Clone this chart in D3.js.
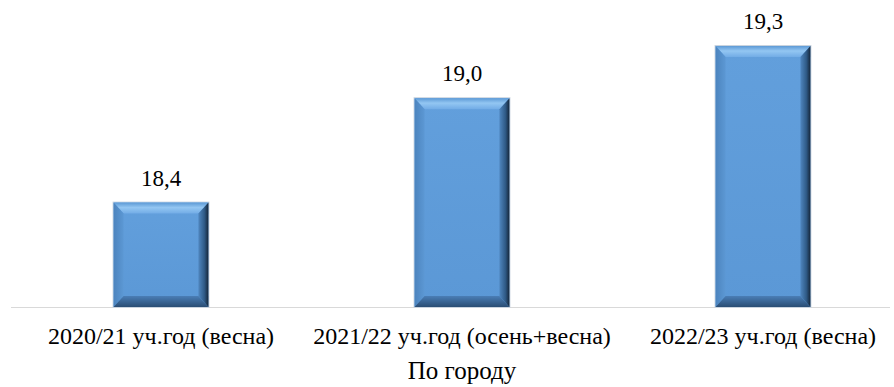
<!DOCTYPE html>
<html><head><meta charset="utf-8">
<script src="https://cdn.jsdelivr.net/npm/d3@7"></script>
</head><body style="margin:0;padding:0;background:#fff"><svg id="c" width="894" height="387" style="display:block" font-family="Liberation Serif"></svg>
<script>
const categories = ["2020/21 уч.год (весна)", "2021/22 уч.год (осень+весна)", "2022/23 уч.год (весна)"];
const values = [18.4, 19.0, 19.3];
const labels = ["18,4", "19,0", "19,3"];
const axisTitle = "По городу";

const FONT = "Liberation Serif";
const svg = d3.select("#c");
const base = 307;
const x = d3.scaleBand().domain(categories).range([10.5, 913.5]).paddingInner(0.685).paddingOuter(0.3425);
const y = d3.scaleLinear().domain([17.8, 19.5]).range([base, base - 1.7 * 174]);

const defs = svg.append("defs");
function lg(id, x1, y1, x2, y2, stops) {
  const g = defs.append("linearGradient").attr("id", id).attr("x1", x1).attr("y1", y1).attr("x2", x2).attr("y2", y2);
  stops.forEach(s => g.append("stop").attr("offset", s[0]).attr("stop-color", s[1]));
}
lg("face", 0, 0, 0, 1, [[0, "#629fdc"], [1, "#5b98d6"]]);
lg("top", 0, 0, 0, 1, [[0, "#5d9ad6"], [0.45, "#93c6f2"], [1, "#72ace6"]]);
lg("right", 0, 0, 1, 0, [[0, "#4f86bf"], [0.6, "#2f5a86"], [1, "#15263a"]]);
lg("left", 0, 0, 1, 0, [[0, "#4c84be"], [1, "#5c98d4"]]);
lg("bottom", 0, 0, 0, 1, [[0, "#4a7eb6"], [1, "#2a4d74"]]);

svg.append("line").attr("x1", 11).attr("x2", 890).attr("y1", base + 0.5).attr("y2", base + 0.5)
  .attr("stroke", "#d9d9d9").attr("stroke-width", 1.2);

const bw = x.bandwidth();
const bars = svg.selectAll("g.bar").data(values).join("g").attr("class", "bar");
bars.each(function (v, i) {
  const g = d3.select(this);
  const x0 = x(categories[i]), x1 = x0 + bw;
  const y0 = y(v), y1 = base;
  const b = 11, bs = 10;
  g.append("rect").attr("x", x0 - 0.5).attr("y", y0 - 0.5).attr("width", bw + 1).attr("height", y1 - y0 + 1)
    .attr("fill", "none").attr("stroke", "#c9d3de").attr("stroke-width", 1);
  g.append("rect").attr("x", x0).attr("y", y0).attr("width", bw).attr("height", y1 - y0).attr("fill", "url(#face)");
  const P = pts => pts.map(p => p.join(",")).join(" ");
  g.append("polygon").attr("points", P([[x0, y0], [x1, y0], [x1 - bs, y0 + b], [x0 + bs, y0 + b]])).attr("fill", "url(#top)");
  g.append("polygon").attr("points", P([[x0, y0], [x0 + bs, y0 + b], [x0 + bs, y1 - b], [x0, y1]])).attr("fill", "url(#left)");
  g.append("polygon").attr("points", P([[x1, y0], [x1, y1], [x1 - bs, y1 - b], [x1 - bs, y0 + b]])).attr("fill", "url(#right)");
  g.append("polygon").attr("points", P([[x0, y1], [x0 + bs, y1 - b], [x1 - bs, y1 - b], [x1, y1]])).attr("fill", "url(#bottom)");
});

// value labels
values.forEach((v, i) => {
  const t = svg.append("text").attr("x", x(categories[i]) + bw / 2).attr("y", y(v) - 17)
    .attr("font-size", 23).attr("font-family", FONT).text(labels[i]);
  const w = t.node().getComputedTextLength();
  t.attr("x", x(categories[i]) + bw / 2 - w / 2);
});

// category labels (positions from the band scale, as the axis would)
const xAxis = svg.append("g").attr("transform", `translate(0,${base})`)
  .call(d3.axisBottom(x).tickSize(0).tickPadding(0).tickFormat(""));
xAxis.select(".domain").remove();
categories.forEach((c, i) => {
  const t = svg.append("text").attr("x", x(c) + bw / 2).attr("y", base + 37)
    .attr("font-size", 24).attr("font-family", FONT).text(c);
  const w = t.node().getComputedTextLength();
  t.attr("x", x(c) + bw / 2 - w / 2);
});

const tt = svg.append("text").attr("x", 462).attr("y", 379)
  .attr("font-size", 25).attr("font-family", FONT).text(axisTitle);
tt.attr("x", 462 - tt.node().getComputedTextLength() / 2);
</script></body></html>
